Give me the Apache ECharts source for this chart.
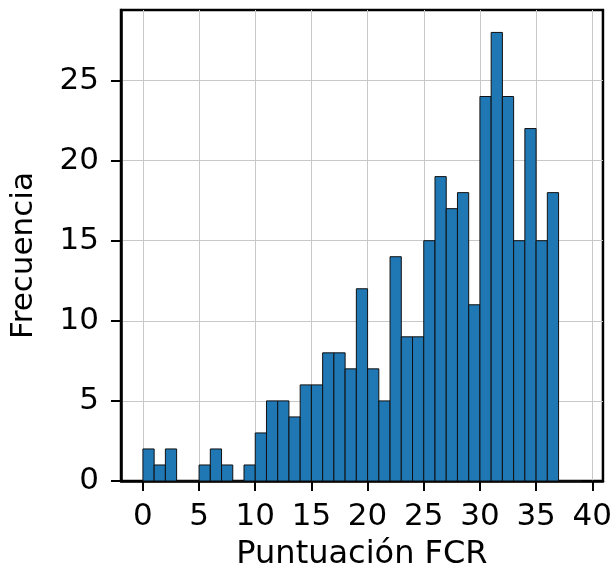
<!DOCTYPE html>
<html>
<head>
<meta charset="utf-8">
<script src="https://cdn.jsdelivr.net/npm/echarts@6/dist/echarts.min.js"></script>
<style>
  html, body { margin: 0; padding: 0; background: #fff; }
  #hist { width: 615px; height: 582px; }
</style>
</head>
<body>
<div id="hist"></div>
<script>
// histogram bins (left edge) and counts, width 1
const binLeft = [0, 1, 2, 3, 4, 5, 6, 7, 8, 9, 10, 11, 12, 13, 14, 15, 16, 17, 18, 19,
  20, 21, 22, 23, 24, 25, 26, 27, 28, 29, 30, 31, 32, 33, 34, 35, 36, 37, 38]
const counts = [2, 1, 2, 0, 0, 1, 2, 1, 0, 1, 3, 5, 5, 4, 6, 6, 8, 8, 7, 12,
  7, 5, 14, 9, 9, 15, 19, 17, 18, 11, 24, 28, 24, 15, 22, 15, 18, 0, 0]
const binWidth = 1
const xTicks = [0, 5, 10, 15, 20, 25, 30, 35, 40]
const yTicks = [0, 5, 10, 15, 20, 25]

const font = 'DejaVu Sans'

var data = binLeft.map(function (b, i) {
  return [b, b + binWidth, counts[i]]
})

function renderBar (params, api) {
  var p0 = api.coord([api.value(0), 0])
  var p1 = api.coord([api.value(1), api.value(2)])
  return {
    type: 'rect',
    shape: { x: p0[0], y: p1[1], width: p1[0] - p0[0], height: p0[1] - p1[1] },
    style: { fill: '#1f77b4', stroke: '#111', lineWidth: 1 }
  }
}

let option = {
  animation: false,
  grid: {
    left: 121,
    right: 9,
    top: 10,
    bottom: 101,
    show: true,
    borderColor: '#000',
    borderWidth: 2.5
  },
  xAxis: {
    type: 'value',
    min: -1.95,
    max: 40.95,
    name: 'Puntuación FCR',
    nameLocation: 'middle',
    nameGap: 58,
    nameTextStyle: { fontFamily: font, fontSize: 32, color: '#000' },
    axisLine: { show: true, onZero: false, lineStyle: { color: '#000', width: 2.5 } },
    axisTick: { show: true, length: 10, customValues: xTicks, lineStyle: { color: '#000', width: 2 } },
    axisLabel: { customValues: xTicks, margin: 20, fontFamily: font, fontSize: 31, color: '#000' },
    splitLine: { show: true, customValues: xTicks, lineStyle: { color: '#c8c8c8', width: 1 } }
  },
  yAxis: {
    type: 'value',
    min: 0,
    max: 29.4,
    name: 'Frecuencia',
    nameLocation: 'middle',
    nameGap: 82,
    nameTextStyle: { fontFamily: font, fontSize: 31, color: '#000', padding: [0, 20, 0, 0] },
    axisLine: { show: true, onZero: false, lineStyle: { color: '#000', width: 2.5 } },
    axisTick: { show: true, length: 10, customValues: yTicks, lineStyle: { color: '#000', width: 2 } },
    axisLabel: { customValues: yTicks, margin: 22, fontFamily: font, fontSize: 31, color: '#000' },
    splitLine: { show: true, customValues: yTicks, lineStyle: { color: '#c8c8c8', width: 1 } }
  },
  series: [
    {
      type: 'custom',
      renderItem: renderBar,
      encode: { x: [0, 1], y: 2 },
      data: data
    }
  ]
}

var chart = echarts.init(document.getElementById('hist'))
chart.setOption(option)
</script>
</body>
</html>
